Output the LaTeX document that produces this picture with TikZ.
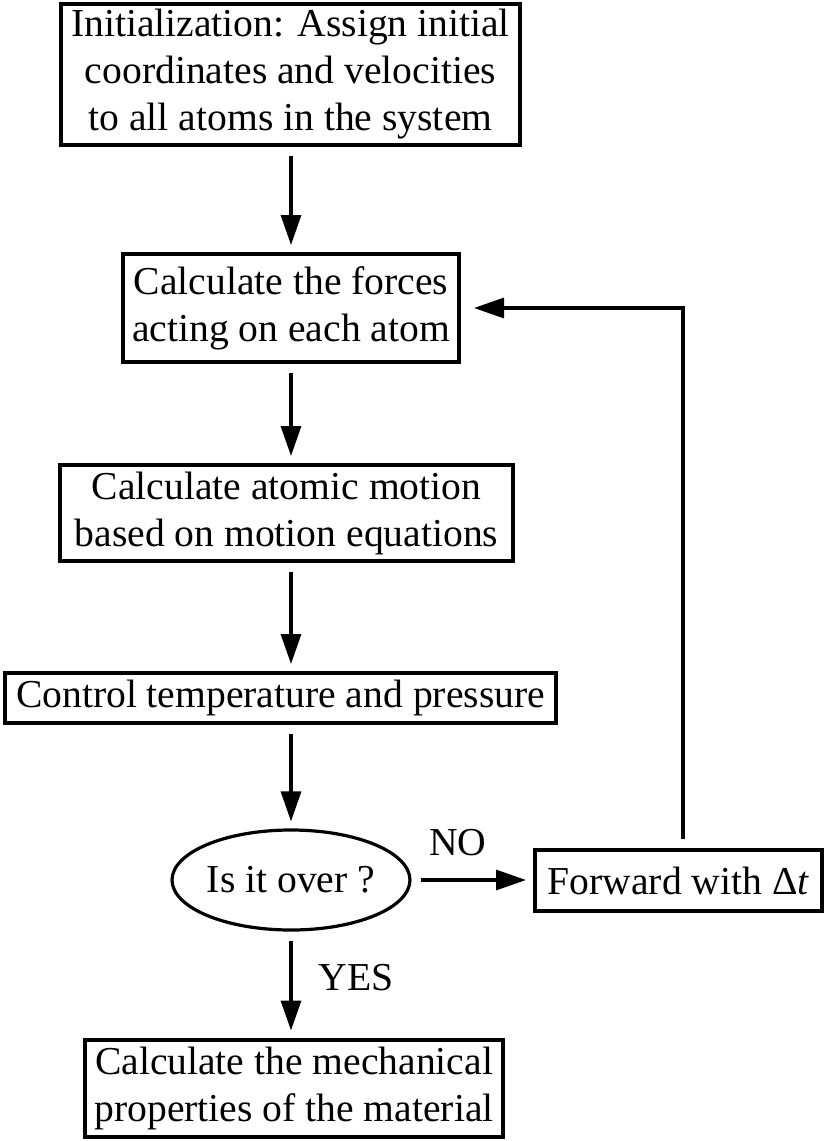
\documentclass[tikz,border=0pt]{standalone}
\usepackage{fontspec}
\setmainfont{Liberation Serif}
\usetikzlibrary{arrows.meta,shapes.geometric}

\begin{document}
\begin{tikzpicture}[x=0.5pt,y=-0.5pt,
	box/.style={draw,line width=2pt,inner sep=0pt,align=center,font=\fontsize{19.8}{23.5}\selectfont},
	flow/.style={-{Triangle[length=15pt,width=10pt]},line width=1.6pt,shorten <=4.5pt,shorten >=3.5pt},
	lbl/.style={inner sep=0pt,font=\fontsize{19.8}{23.5}\selectfont}]
	\useasboundingbox (0,0) rectangle (826,1141);
	\node [box,minimum width=229.5pt,minimum height=70.5pt] (init) at (290.5,74.5) {Initialization: Assign initial\\coordinates and velocities\\to all atoms in the system};
	\node [box,minimum width=168pt,minimum height=54pt] (force) at (291,308) {Calculate the forces\\acting on each atom};
	\node [box,minimum width=226.5pt,minimum height=48pt] (motion) at (286.5,513) {Calculate atomic motion\\based on motion equations};
	\node [box,minimum width=275.5pt,minimum height=25pt] (ctrl) at (280.5,698) {Control temperature and pressure};
	\node [box,ellipse,line width=1.6pt,minimum width=115pt,minimum height=50pt] (over) at (291,880) {Is it over ?};
	\node [box,minimum width=143.5pt,minimum height=30.5pt] (fwd) at (678.5,880.5) {Forward with Δ\textit{t}};
	\node [box,minimum width=209pt,minimum height=48.5pt] (mech) at (294,1088) {Calculate the mechanical\\properties of the material};
	\node [lbl] (no) at (458,843) {NO};
	\node [lbl] (yes) at (356,978) {YES};
	% main flow
	\draw [flow] (init.south -| over) -- (force.north -| over);
	\draw [flow] (force.south -| over) -- (motion.north -| over);
	\draw [flow] (motion.south -| over) -- (ctrl.north -| over);
	\draw [flow] (ctrl.south -| over) -- (over);
	\draw [flow] (over) -- (mech.north -| over);
	\draw [flow] (over.east) -- (over.east -| fwd.west);
	% loop back
	\draw [flow,shorten >=6.5pt] ([xshift=2.25pt]fwd.north) |- (force.east);
\end{tikzpicture}
\end{document}
